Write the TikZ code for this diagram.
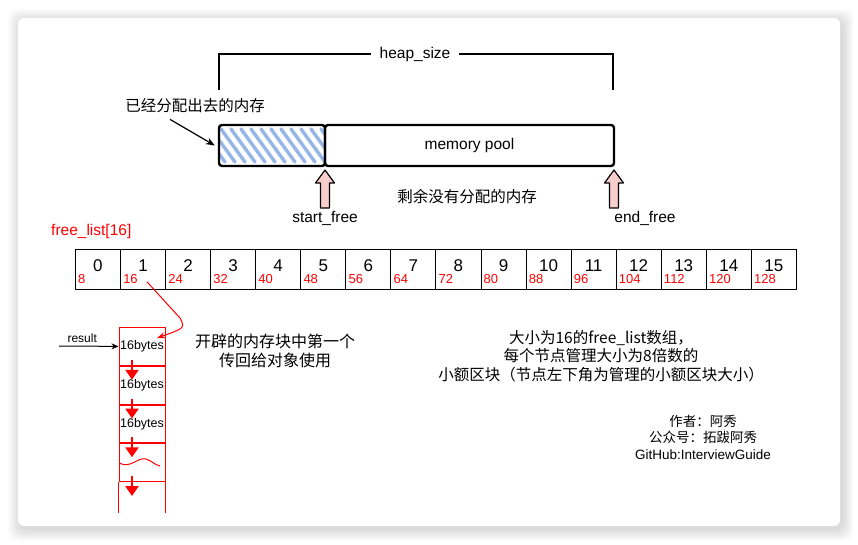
\documentclass[tikz,border=0pt]{standalone}
\usepackage{fontspec}
\setmainfont{Liberation Sans}
\newfontfamily\cjk{Noto Sans CJK SC}
\usepackage{tikz}
\usetikzlibrary{arrows.meta}
\definecolor{hatchblue}{RGB}{150,182,232}
\definecolor{pinkfill}{RGB}{248,206,204}
\tikzset{>=stealth}
\tikzset{
  txt/.style={font=\fontsize{15.5}{18}\selectfont, inner sep=0pt},
  cntxt/.style={font=\cjk\fontsize{15.5}{18.5}\selectfont, inner sep=0pt, align=center},
  poolbox/.style={draw, line width=2.4pt, rounded corners=3pt, minimum height=41pt, inner sep=0pt},
  hatched/.style={path picture={
      \foreach \k in {-4,...,11}
        \draw[hatchblue, line width=3.4pt, line cap=round]
          ([xshift=\k*10pt+2pt,yshift=-4pt]path picture bounding box.north west) -- ++(24pt,-33pt);}},
  cell/.style={draw, line width=0.8pt, minimum width=45.06pt, minimum height=40pt, inner sep=0pt, anchor=north west},
  num/.style={font=\fontsize{17}{20}\selectfont, inner sep=0pt},
  sizelbl/.style={red, font=\fontsize{13}{15}\selectfont, inner sep=0pt, anchor=base west},
  stackcell/.style={draw=red, line width=1pt, minimum width=46pt, minimum height=37.75pt, inner sep=0pt, anchor=north, font=\fontsize{12.5}{15}\selectfont},
  downarrow/.style={red, line width=2.8pt, -{Triangle[length=10pt,width=13pt]}},
  uparrow/.pic={
    \draw[fill=pinkfill, line width=1.2pt, line join=round]
      (-4.5,0) -- (-4.5,-25) -- (-9.5,-25) -- (0,-38) -- (9.5,-25) -- (4.5,-25) -- (4.5,0) -- cycle;}
}

\begin{document}
\begin{tikzpicture}[x=1pt,y=-1pt]
    \useasboundingbox (0,0) rectangle (858,545);
    \fill[white] (0,0) rectangle (858,545);
    % card and its shadow
    \foreach \i in {1,...,12}
        \fill[black, opacity=0.013, rounded corners=10pt] (18-\i+2,18-\i+3) rectangle (840+\i+2,526+\i+3);
    \fill[white, rounded corners=6pt] (18,18) rectangle (840,526);

    \draw[line width=1.2pt] (219,90) -- (219,54) -- (613,54) -- (613,90);
    \node[txt, fill=white, inner xsep=9pt, inner ysep=2pt] (heap) at (415,54) {heap\_size};

    \node[poolbox, hatched, minimum width=106pt] (alloc) at (272,145.5) {};
    \node[poolbox, txt, minimum width=289pt] (pool) at (469.5,145.5) {memory pool};

    \node[cntxt] (allocTxt) at (195,106) {已经分配出去的内存};
    \draw[line width=1.2pt, -{Stealth[length=9pt,width=7pt]}] ([xshift=-25pt,yshift=-6pt]allocTxt.south) -- ([xshift=-3pt]alloc.west);

    \pic at (325,208) {uparrow};
    \pic at (614,208) {uparrow};
    \node[txt] (startFree) at (325,218) {start\_free};
    \node[txt] (endFree) at (645,218) {end\_free};
    \node[cntxt] (rest) at (467,197) {剩余没有分配的内存};

    \node[txt, red, anchor=west] (flist) at (51,231) {free\_list[16]};
    \foreach \i in {0,...,15}{
        \pgfmathtruncatemacro{\sz}{8*(\i+1)}
        \node[cell] (c\i) at ({75+45.06*\i},249) {};
        \node[num] (n\i) at ([yshift=4pt]c\i.center) {\i};
        \node[sizelbl] (lb\i) at ([xshift=3pt,yshift=6pt]c\i.south west) {\sz};
    }

    \node[stackcell] (blk1) at (142,327) {16bytes};
    \node[stackcell] (blk2) at (blk1.south) {16bytes};
    \node[stackcell] (blk3) at (blk2.south) {16bytes};
    \node[stackcell] (blk4) at (blk3.south) {};
    \draw[red, line width=1pt] (blk4.south west) -- ++(0,31);
    \draw[red, line width=1pt] (blk4.south east) -- ++(0,31);
    \draw[red, line width=1pt] (119,463) .. controls (131,469) and (137,457) .. (146,459) .. controls (152,461) and (155,465) .. (160,466);
    \foreach \k in {1,...,4}
        \draw[downarrow] ([xshift=-10pt,yshift=6pt]blk\k.south) -- ([xshift=-10pt,yshift=-14pt]blk\k.south);

    \coordinate (resIn) at (59,346);
    \draw[line width=1pt, -{Stealth[length=7pt,width=6pt]}] (resIn) -- (blk1.west)
        node[pos=0.39, above=3pt, font=\fontsize{12}{14}\selectfont, inner sep=0pt] (res) {result};
    \draw[red, line width=1pt, -{Stealth[length=8pt,width=6pt]}] ([xshift=4pt,yshift=8pt]c1.south) -- (180,318)
        .. controls (185,328) .. ([xshift=15pt,yshift=-11pt]blk1.north);

    \node[cntxt, font=\cjk\fontsize{16}{19.5}\selectfont] (firstTxt) at (275,351) {开辟的内存块中第一个\\传回给对象使用};
    \node[cntxt] (arrTxt) at (601,356) {大小为16的free\_list数组，\\每个节点管理大小为8倍数的\\小额区块（节点左下角为管理的小额区块大小）};
    \node[cntxt, font=\cjk\fontsize{13.5}{16.5}\selectfont] (author) at (703,437) {作者：阿秀\\公众号：拓跋阿秀\\{\rmfamily GitHub:InterviewGuide}};
\end{tikzpicture}
\end{document}
